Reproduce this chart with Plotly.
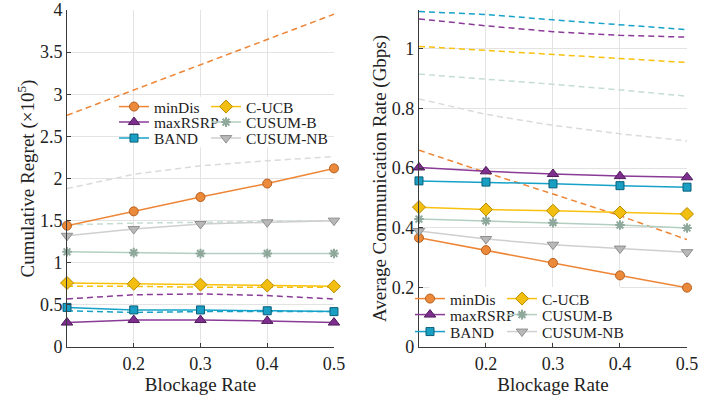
import plotly.graph_objects as go

# ---------------- data ----------------
blockage = [0.1, 0.2, 0.3, 0.4, 0.5]
methods = ["minDis", "maxRSRP", "BAND", "C-UCB", "CUSUM-B", "CUSUM-NB"]

# Cumulative regret (x1e5), solid lines with markers
regret_solid = {
    "minDis":   [1.44, 1.61, 1.78, 1.94, 2.12],
    "maxRSRP":  [0.29, 0.32, 0.32, 0.31, 0.29],
    "BAND":     [0.47, 0.44, 0.44, 0.43, 0.42],
    "C-UCB":    [0.76, 0.75, 0.74, 0.73, 0.72],
    "CUSUM-B":  [1.13, 1.12, 1.11, 1.11, 1.11],
    "CUSUM-NB": [1.32, 1.40, 1.46, 1.48, 1.50],
}
# Cumulative regret, dashed companion lines
regret_dash = {
    "minDis":   [2.75, 3.05, 3.35, 3.65, 3.95],
    "maxRSRP":  [0.57, 0.62, 0.63, 0.61, 0.57],
    "BAND":     [0.43, 0.41, 0.42, 0.42, 0.42],
    "C-UCB":    [0.72, 0.72, 0.71, 0.71, 0.71],
    "CUSUM-B":  [1.45, 1.47, 1.48, 1.49, 1.50],
    "CUSUM-NB": [1.88, 2.05, 2.15, 2.21, 2.26],
}
# Average communication rate (Gbps), solid lines with markers
rate_solid = {
    "minDis":   [0.366, 0.325, 0.282, 0.240, 0.199],
    "maxRSRP":  [0.602, 0.589, 0.580, 0.573, 0.569],
    "BAND":     [0.557, 0.553, 0.547, 0.541, 0.536],
    "C-UCB":    [0.469, 0.461, 0.457, 0.451, 0.446],
    "CUSUM-B":  [0.429, 0.423, 0.417, 0.409, 0.399],
    "CUSUM-NB": [0.389, 0.362, 0.343, 0.330, 0.318],
}
# Average communication rate, dashed companion lines
rate_dash = {
    "minDis":   [0.660, 0.585, 0.513, 0.440, 0.360],
    "maxRSRP":  [1.100, 1.077, 1.057, 1.045, 1.039],
    "BAND":     [1.125, 1.115, 1.097, 1.080, 1.064],
    "C-UCB":    [1.008, 0.994, 0.982, 0.968, 0.954],
    "CUSUM-B":  [0.915, 0.899, 0.881, 0.862, 0.841],
    "CUSUM-NB": [0.832, 0.780, 0.743, 0.715, 0.691],
}

x_ticks = [0.2, 0.3, 0.4, 0.5]
regret_ticks = [0, 0.5, 1, 1.5, 2, 2.5, 3, 3.5, 4]
rate_ticks = [0, 0.2, 0.4, 0.6, 0.8, 1]

# ---------------- styles ----------------
FONT = "Liberation Serif"
style = {
    "minDis":   dict(line="#EE8535", dash="#EE8535", fill="#EA8A3A", edge="#B85E1E", symbol="circle", size=9),
    "maxRSRP":  dict(line="#8A3A97", dash="#8A3A97", fill="#7E2F8E", edge="#4F1A5A", symbol="triangle-up", size=10),
    "BAND":     dict(line="#16A2C8", dash="#16A2C8", fill="#1A9FC4", edge="#0B5F78", symbol="square", size=8),
    "C-UCB":    dict(line="#F8C10E", dash="#F8C10E", fill="#F2BF10", edge="#B88C00", symbol="diamond", size=10),
    "CUSUM-B":  dict(line="#B3CFC1", dash="#C5DDD1", fill="#8FA89C", edge="#8FA89C", symbol="asterisk", size=8),
    "CUSUM-NB": dict(line="#CFCFCF", dash="#DADADA", fill="#B8B8B8", edge="#8E8E8E", symbol="triangle-down", size=10),
}
# legend rows: (left legend id, right legend id) for each method
legend_of = {
    "minDis": ("legend", "legend4"), "C-UCB": ("legend", "legend4"),
    "maxRSRP": ("legend2", "legend5"), "CUSUM-B": ("legend2", "legend5"),
    "BAND": ("legend3", "legend6"), "CUSUM-NB": ("legend3", "legend6"),
}
first_col = {"minDis", "maxRSRP", "BAND"}
legend_order = ["minDis", "C-UCB", "maxRSRP", "CUSUM-B", "BAND", "CUSUM-NB"]

fig = go.Figure()

for panel, (solid, dashed, xa, ya) in enumerate([
        (regret_solid, regret_dash, "x", "y"),
        (rate_solid, rate_dash, "x2", "y2")]):
    # dashed companions first (behind)
    for m in methods:
        s = style[m]
        fig.add_trace(go.Scatter(
            x=blockage, y=dashed[m], xaxis=xa, yaxis=ya, mode="lines",
            line=dict(color=s["dash"], width=1.5, dash="6px,4px"),
            showlegend=False, hoverinfo="skip", cliponaxis=False))
    for m in legend_order:
        s = style[m]
        mk = dict(symbol=s["symbol"], size=s["size"], color=s["fill"],
                  line=dict(color=s["edge"], width=1))
        if s["symbol"] == "asterisk":
            mk = dict(symbol="asterisk", size=s["size"],
                      line=dict(color=s["fill"], width=2))
        fig.add_trace(go.Scatter(
            x=blockage, y=solid[m], xaxis=xa, yaxis=ya, mode="lines+markers",
            name=m, line=dict(color=s["line"], width=1.5), marker=mk,
            legend=legend_of[m][panel], cliponaxis=False,
            legendwidth=47 if m in first_col else 90))

W, H = 723, 398
ML, MR, MT, MB = 67, 36, 10, 51
PW, PH = W - ML - MR, H - MT - MB
axis_common = dict(
    showline=True, linecolor="#3a3a3a", linewidth=1,
    showgrid=True, gridcolor="#E3E3E3", gridwidth=1,
    ticks="inside", ticklen=4, tickcolor="#3a3a3a",
    tickfont=dict(family=FONT, size=18, color="#222"),
    zeroline=False, mirror=False, automargin=False,
)
title_font = dict(family=FONT, size=19, color="#222")

fig.update_layout(
    template="none",
    width=W, height=H,
    margin=dict(l=ML, r=MR, t=MT, b=MB, autoexpand=False),
    paper_bgcolor="white", plot_bgcolor="white",
    font=dict(family=FONT, color="#222"),
    xaxis=dict(domain=[0, 0.4306], range=[0.1, 0.5], tickvals=x_ticks,
               title=dict(text="Blockage Rate", font=title_font, standoff=3),
               anchor="y", **axis_common),
    yaxis=dict(domain=[0, 1], range=[0, 4], tickvals=regret_ticks,
               title=dict(text="Cumulative Regret (×10<sup>5</sup>)", font=title_font, standoff=0),
               anchor="x", **axis_common),
    xaxis2=dict(domain=[0.5677, 1.0], range=[0.1, 0.5], tickvals=x_ticks,
                title=dict(text="Blockage Rate", font=title_font, standoff=3),
                anchor="y2", **axis_common),
    yaxis2=dict(domain=[0, 1], range=[0, 1.13], tickvals=rate_ticks,
                title=dict(text="Average Communication Rate (Gbps)", font=title_font, standoff=0),
                anchor="x2", **axis_common),
)

# legends: one horizontal legend per row, two entries each (paper coords)
leg_font = dict(family=FONT, size=15.5, color="#222")
left_rows = [106, 121.5, 137.5]
right_rows = [298, 314, 331]
left_x, right_x = 114, 410
for i, yc in enumerate(left_rows + right_rows):
    name = "legend" if i == 0 else f"legend{i+1}"
    lx = left_x if i < 3 else right_x
    top = yc - 16
    fig.update_layout({name: dict(
        orientation="h", xref="paper", yref="paper",
        x=(lx - ML) / PW, y=(H - MB - top) / PH, xanchor="left", yanchor="top",
        bgcolor="rgba(0,0,0,0)", borderwidth=0, font=leg_font,
        itemclick=False, itemdoubleclick=False)})

# white legend backgrounds hiding the grid (between grid and traces)
fig.add_shape(type="rect", xref="x", yref="y",
              x0=0.205, x1=0.49, y0=2.37, y1=2.97,
              fillcolor="white", line=dict(width=0), layer="between")
fig.add_shape(type="rect", xref="x2", yref="y2",
              x0=0.116, x1=0.40, y0=0.018, y1=0.201,
              fillcolor="white", line=dict(width=0), layer="between")

fig.write_html("out.html", config={"displayModeBar": False},
               post_script="document.body.style.margin='0px';document.body.style.padding='0px';")
